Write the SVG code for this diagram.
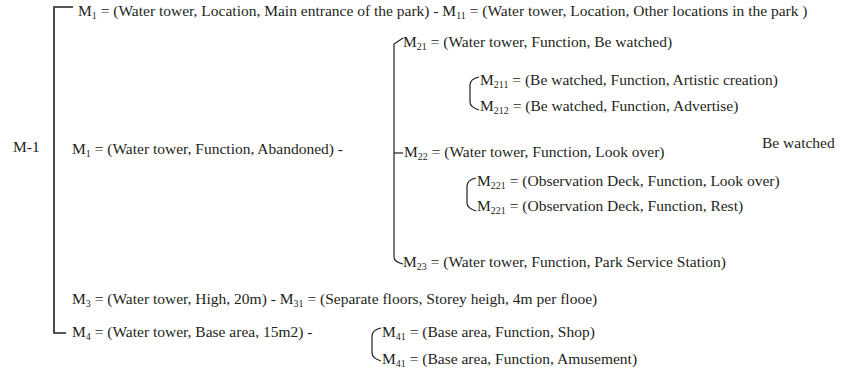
<svg xmlns="http://www.w3.org/2000/svg" width="842" height="383" viewBox="0 0 842 383">
<style>
text{font-family:"Liberation Serif","Times New Roman",serif;font-size:15.5px;fill:#231f20}
.s{font-size:10px}
.ln{fill:none;stroke:#231f20;stroke-width:1.2}
.main{fill:none;stroke:#231f20;stroke-width:1.6}
</style>
<rect width="842" height="383" fill="#fff"/>
<g id="connectors">
<path class="main" d="M73,7 H54 V333 H66"/>
<path class="ln" d="M403,38 L394,44 V257 Q394,262 403,264"/>
<path class="ln" d="M394,153 H403"/>
<path class="ln" d="M479,77 Q470,79 470,85 V102 Q470,107 479,110"/>
<path class="ln" d="M476,178 Q467,180 467,186 V203 Q467,208 476,211"/>
<path class="ln" d="M381,328 Q372,330 372,336 V353 Q372,358 381,361"/>
</g>
<g id="m-1"><text x="13" y="152">M-1</text></g>
<g id="m1-location"><text x="78" y="16">M<tspan class="s" dy="3">1</tspan><tspan dy="-3"> = (Water tower, Location, Main entrance of the park) - M</tspan><tspan class="s" dy="3">11</tspan><tspan dy="-3"> = (Water tower, Location, Other locations in the park )</tspan></text></g>
<g id="m1-function"><text x="72" y="154">M<tspan class="s" dy="3">1</tspan><tspan dy="-3"> = (Water tower, Function, Abandoned) -</tspan></text></g>
<g id="m21"><text x="403" y="47">M<tspan class="s" dy="3">21</tspan><tspan dy="-3"> = (Water tower, Function, Be watched)</tspan></text></g>
<g id="m211"><text x="480" y="85">M<tspan class="s" dy="3">211</tspan><tspan dy="-3"> = (Be watched, Function, Artistic creation)</tspan></text></g>
<g id="m212"><text x="480" y="111">M<tspan class="s" dy="3">212</tspan><tspan dy="-3"> = (Be watched, Function, Advertise)</tspan></text></g>
<g id="be-watched"><text x="762" y="148">Be watched</text></g>
<g id="m22"><text x="404" y="157">M<tspan class="s" dy="3">22</tspan><tspan dy="-3"> = (Water tower, Function, Look over)</tspan></text></g>
<g id="m221a"><text x="477" y="186">M<tspan class="s" dy="3">221</tspan><tspan dy="-3"> = (Observation Deck, Function, Look over)</tspan></text></g>
<g id="m221b"><text x="477" y="211">M<tspan class="s" dy="3">221</tspan><tspan dy="-3"> = (Observation Deck, Function, Rest)</tspan></text></g>
<g id="m23"><text x="403" y="267">M<tspan class="s" dy="3">23</tspan><tspan dy="-3"> = (Water tower, Function, Park Service Station)</tspan></text></g>
<g id="m3"><text x="72" y="304">M<tspan class="s" dy="3">3</tspan><tspan dy="-3"> = (Water tower, High, 20m) - M</tspan><tspan class="s" dy="3">31</tspan><tspan dy="-3"> = (Separate floors, Storey heigh, 4m per flooe)</tspan></text></g>
<g id="m4"><text x="72" y="337">M<tspan class="s" dy="3">4</tspan><tspan dy="-3"> = (Water tower, Base area, 15m2) -</tspan></text></g>
<g id="m41a"><text x="382" y="337">M<tspan class="s" dy="3">41</tspan><tspan dy="-3"> = (Base area, Function, Shop)</tspan></text></g>
<g id="m41b"><text x="382" y="364">M<tspan class="s" dy="3">41</tspan><tspan dy="-3"> = (Base area, Function, Amusement)</tspan></text></g>
</svg>
